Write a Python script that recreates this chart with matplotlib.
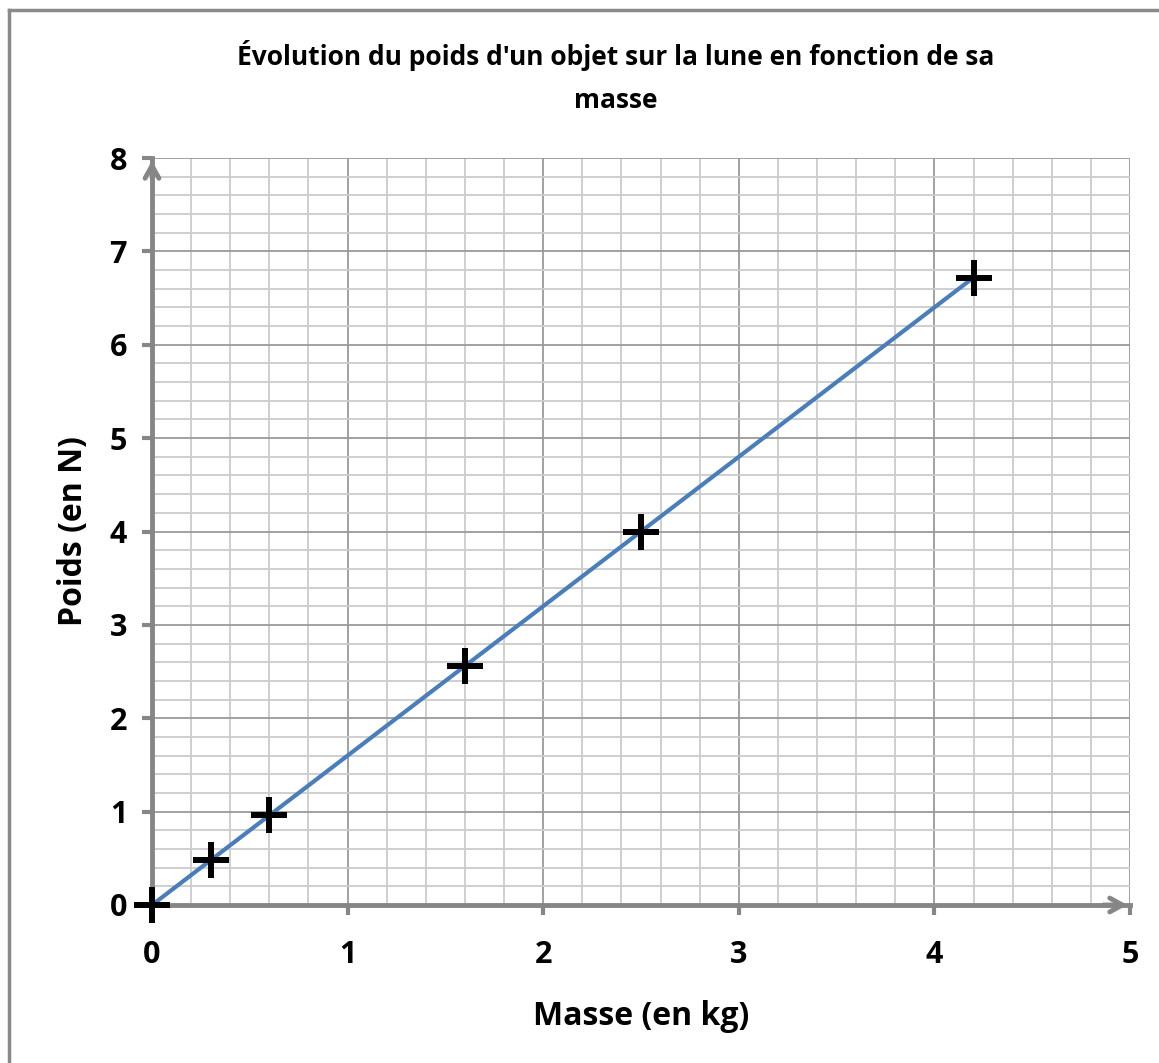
import matplotlib
matplotlib.use("Agg")
import matplotlib.pyplot as plt
from matplotlib.ticker import MultipleLocator
from matplotlib.lines import Line2D

masse = [0.0, 0.3, 0.6, 1.6, 2.5, 4.2]
poids = [0.0, 0.48, 0.96, 2.56, 4.0, 6.72]
x_ticks = [0, 1, 2, 3, 4, 5]
y_ticks = [0, 1, 2, 3, 4, 5, 6, 7, 8]
title = "Évolution du poids d'un objet sur la lune en fonction de sa\nmasse"
xlabel = "Masse (en kg)"
ylabel = "Poids (en N)"

W, H = 1159, 1063
fig = plt.figure(figsize=(W / 100, H / 100), dpi=100)
font = ["Open Sans", "DejaVu Sans"]
plt.rcParams['font.family'] = font

x0, x1 = 152 / W, 1130 / W
y0, y1 = 1 - 905 / H, 1 - 158 / H
ax = fig.add_axes([x0, y0, x1 - x0, y1 - y0])
ax.set_xlim(0, 5)
ax.set_ylim(0, 8)
ax.xaxis.set_major_locator(MultipleLocator(1))
ax.yaxis.set_major_locator(MultipleLocator(1))
ax.xaxis.set_minor_locator(MultipleLocator(0.2))
ax.yaxis.set_minor_locator(MultipleLocator(0.2))
ax.grid(which='major', color='#9a9a9a', lw=1.3, zorder=0)
ax.grid(which='minor', color='#cccccc', lw=1.3, zorder=0)
ax.set_axisbelow(True)
for s in ['top', 'right']:
    ax.spines[s].set_visible(False)
for s in ['left', 'bottom']:
    ax.spines[s].set_color('#868686')
    ax.spines[s].set_linewidth(3.5)
    ax.spines[s].set_zorder(1)
ax.tick_params(which='major', length=7, width=3, color='#868686', direction='out',
               labelsize=22)
ax.tick_params(axis='x', which='major', pad=18)
ax.tick_params(axis='y', which='major', pad=11)
ax.tick_params(which='minor', length=0)
ax.set_xticks(x_ticks)
ax.set_yticks(y_ticks)
for lab in ax.get_xticklabels() + ax.get_yticklabels():
    lab.set_fontweight('bold')

# arrowheads on axes
ax.annotate('', xy=(1.0, 0), xytext=(0.97, 0), xycoords='axes fraction',
            arrowprops=dict(arrowstyle='->,head_length=0.9,head_width=0.5', color='#868686', lw=3.5),
            zorder=1, annotation_clip=False)
ax.annotate('', xy=(0, 1.0), xytext=(0, 0.97), xycoords='axes fraction',
            arrowprops=dict(arrowstyle='->,head_length=0.9,head_width=0.5', color='#868686', lw=3.5),
            zorder=1, annotation_clip=False)

ax.plot([masse[0], masse[-1]], [poids[0], poids[-1]], color='#4a7ebb', lw=3, zorder=3)
ax.plot(masse, poids, linestyle='none', marker='+', markersize=26, markeredgewidth=4.3,
        color='black', zorder=4, clip_on=False)

ax.set_xlabel(xlabel, fontsize=23, fontweight='bold', labelpad=22)
ax.set_ylabel(ylabel, fontsize=23, fontweight='bold', labelpad=14)
fig.text(616 / W, 1 - 77 / H, title, ha='center', va='center', fontsize=19,
         fontweight='bold', linespacing=1.75)

# chart frame
fig.add_artist(Line2D([9 / W, 9 / W], [0, 1 - 10 / H], color='#8a8a8a', lw=2.5,
                      transform=fig.transFigure))
fig.add_artist(Line2D([9 / W, 1], [1 - 10 / H, 1 - 10 / H], color='#8a8a8a', lw=2.5,
                      transform=fig.transFigure))

fig.savefig('out.png', dpi=100)
